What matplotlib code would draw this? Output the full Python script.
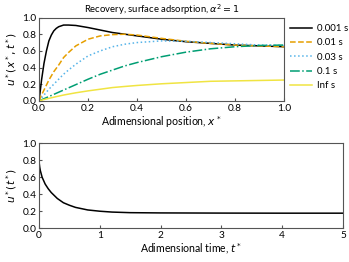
import numpy as np
import matplotlib
matplotlib.use("Agg")
import matplotlib.pyplot as plt

plt.rcParams['font.family'] = ['Lato', 'DejaVu Sans']
plt.rcParams['font.size'] = 7

# Top panel data: profiles along position
x_pos = [0.0, 0.01, 0.02, 0.03, 0.04, 0.05, 0.06, 0.07, 0.08, 0.1, 0.12, 0.15, 0.2, 0.25, 0.3,
         0.35, 0.4, 0.5, 0.6, 0.7, 0.8, 0.9, 1.0]
u_0001 = [0.0, 0.25, 0.45, 0.60, 0.72, 0.79, 0.84, 0.87, 0.89, 0.91, 0.91, 0.905, 0.88, 0.85, 0.82,
          0.80, 0.78, 0.74, 0.71, 0.69, 0.67, 0.66, 0.65]
u_001 = [0.0, 0.07, 0.13, 0.19, 0.25, 0.30, 0.35, 0.39, 0.43, 0.52, 0.58, 0.66, 0.74, 0.78, 0.795,
         0.80, 0.79, 0.75, 0.715, 0.69, 0.67, 0.66, 0.65]
u_003 = [0.0, 0.035, 0.07, 0.105, 0.14, 0.17, 0.20, 0.23, 0.26, 0.32, 0.37, 0.44, 0.54, 0.60, 0.65,
         0.68, 0.70, 0.72, 0.715, 0.70, 0.685, 0.67, 0.665]
u_01 = [0.0, 0.013, 0.026, 0.039, 0.052, 0.065, 0.078, 0.091, 0.104, 0.13, 0.156, 0.195, 0.26, 0.32, 0.37,
        0.42, 0.46, 0.53, 0.585, 0.625, 0.65, 0.665, 0.67]
u_inf = [0.0, 0.008, 0.016, 0.023, 0.03, 0.037, 0.044, 0.051, 0.057, 0.07, 0.081, 0.097, 0.12, 0.14, 0.16,
         0.173, 0.185, 0.205, 0.22, 0.235, 0.24, 0.245, 0.25]
labels = ['0.001 s', '0.01 s', '0.03 s', '0.1 s', 'Inf s']

# Bottom panel data: value over time
t = [0.0, 0.01, 0.02, 0.05, 0.1, 0.15, 0.2, 0.3, 0.4, 0.5, 0.6, 0.8, 1.0, 1.2, 1.5, 2.0, 3.0, 4.0, 5.0]
u_t = [0.78, 0.72, 0.68, 0.60, 0.52, 0.465, 0.42, 0.35, 0.30, 0.27, 0.245, 0.215, 0.20, 0.19, 0.183,
       0.18, 0.178, 0.177, 0.177]

fig = plt.figure(figsize=(3.49, 2.62), dpi=100)
ax1 = fig.add_axes([0.112, 0.615, 0.702, 0.318])
ax2 = fig.add_axes([0.112, 0.129, 0.871, 0.324])

styles = [('black', '-'), ('#E69F00', '--'), ('#56B4E9', ':'), ('#009E73', '-.'), ('#F0E442', '-')]
for y, lab, (c, ls) in zip([u_0001, u_001, u_003, u_01, u_inf], labels, styles):
    ax1.plot(x_pos, y, color=c, ls=ls, lw=1.1, label=lab)

ax1.set_xlim(0, 1)
ax1.set_ylim(0, 1)
ax1.set_xticks([0, 0.2, 0.4, 0.6, 0.8, 1.0])
ax1.set_yticks([0, 0.2, 0.4, 0.6, 0.8, 1.0])
ax1.set_xlabel(r'Adimensional position, $x^*$', labelpad=1, fontsize=7.6)
ax1.set_ylabel(r'$u^*(x^*,t^*)$', labelpad=2, fontsize=7.6)
ax1.set_title(r'Recovery, surface adsorption, $\alpha^2=1$', pad=3, fontsize=6.8)
ax1.legend(loc='upper left', bbox_to_anchor=(1.01, 0.97), frameon=False,
           handlelength=2.2, handletextpad=0.5, labelspacing=0.55, borderaxespad=0)

ax2.plot(t, u_t, color='black', lw=1.1)
ax2.set_xlim(0, 5)
ax2.set_ylim(0, 1)
ax2.set_yticks([0, 0.2, 0.4, 0.6, 0.8, 1.0])
ax2.set_xlabel(r'Adimensional time, $t^*$', labelpad=1, fontsize=7.6)
ax2.set_ylabel(r'$u^*(t^*)$', labelpad=2, fontsize=7.6)

for ax in (ax1, ax2):
    ax.tick_params(direction='in', length=2.5, color='#555555', pad=2, labelsize=7.3)
    for s in ax.spines.values():
        s.set_color('#555555')
        s.set_linewidth(0.8)
    ax.yaxis.set_major_formatter(matplotlib.ticker.FormatStrFormatter('%.1f'))
ax1.xaxis.set_major_formatter(matplotlib.ticker.FormatStrFormatter('%.1f'))

fig.savefig('out.png', dpi=100)
